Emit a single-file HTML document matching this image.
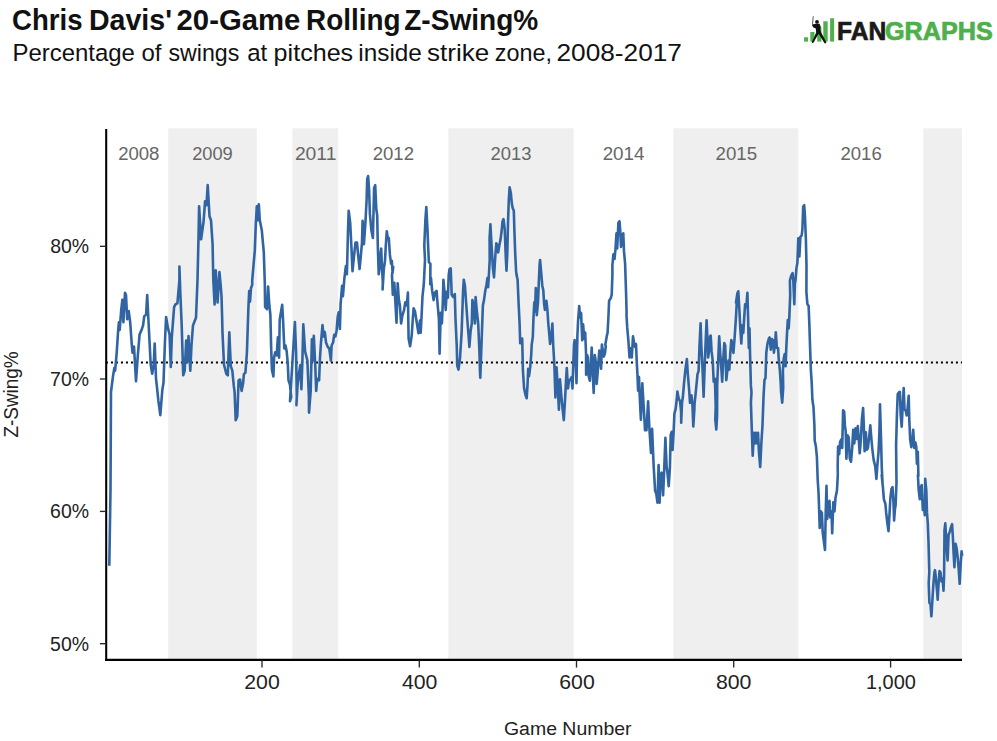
<!DOCTYPE html>
<html><head><meta charset="utf-8"><title>Chris Davis' 20-Game Rolling Z-Swing%</title>
<style>
html,body{margin:0;padding:0;background:#fff;}
body{width:997px;height:741px;overflow:hidden;font-family:"Liberation Sans",sans-serif;}
svg{display:block;}
text{font-family:"Liberation Sans",sans-serif;}
.tk{stroke:#2a2a2a;stroke-width:1.35;}
</style></head><body>
<svg width="997" height="741" viewBox="0 0 997 741">
<rect width="997" height="741" fill="#fff"/>
<text x="12.06" y="29.6" font-size="28.57px" font-weight="bold" fill="#111" stroke="none" stroke-width="0" textLength="70.49" lengthAdjust="spacingAndGlyphs">Chris</text><text x="88.97" y="29.6" font-size="28.57px" font-weight="bold" fill="#111" stroke="none" stroke-width="0" textLength="82.95" lengthAdjust="spacingAndGlyphs">Davis'</text><text x="176.59" y="29.6" font-size="28.57px" font-weight="bold" fill="#111" stroke="none" stroke-width="0" textLength="123.68" lengthAdjust="spacingAndGlyphs">20-Game</text><text x="306.07" y="29.6" font-size="28.57px" font-weight="bold" fill="#111" stroke="none" stroke-width="0" textLength="94.47" lengthAdjust="spacingAndGlyphs">Rolling</text><text x="404.21" y="29.6" font-size="28.57px" font-weight="bold" fill="#111" stroke="none" stroke-width="0" textLength="134.09" lengthAdjust="spacingAndGlyphs">Z-Swing%</text>
<text x="12.42" y="60.8" font-size="24.51px" font-weight="normal" fill="#111" stroke="none" stroke-width="0" textLength="122.47" lengthAdjust="spacingAndGlyphs">Percentage</text><text x="141.49" y="60.8" font-size="24.51px" font-weight="normal" fill="#111" stroke="none" stroke-width="0" textLength="20.02" lengthAdjust="spacingAndGlyphs">of</text><text x="168.47" y="60.8" font-size="24.51px" font-weight="normal" fill="#111" stroke="none" stroke-width="0" textLength="70.82" lengthAdjust="spacingAndGlyphs">swings</text><text x="247.29" y="60.8" font-size="24.51px" font-weight="normal" fill="#111" stroke="none" stroke-width="0" textLength="20.01" lengthAdjust="spacingAndGlyphs">at</text><text x="273.64" y="60.8" font-size="24.51px" font-weight="normal" fill="#111" stroke="none" stroke-width="0" textLength="79.53" lengthAdjust="spacingAndGlyphs">pitches</text><text x="358.34" y="60.8" font-size="24.51px" font-weight="normal" fill="#111" stroke="none" stroke-width="0" textLength="63.55" lengthAdjust="spacingAndGlyphs">inside</text><text x="427.01" y="60.8" font-size="24.51px" font-weight="normal" fill="#111" stroke="none" stroke-width="0" textLength="62.21" lengthAdjust="spacingAndGlyphs">strike</text><text x="494.83" y="60.8" font-size="24.51px" font-weight="normal" fill="#111" stroke="none" stroke-width="0" textLength="57.14" lengthAdjust="spacingAndGlyphs">zone,</text><text x="556.52" y="60.8" font-size="24.51px" font-weight="normal" fill="#111" stroke="none" stroke-width="0" textLength="125.38" lengthAdjust="spacingAndGlyphs">2008-2017</text>
<g id="logo">
<rect x="804" y="37.3" width="4.1" height="4.3" fill="#4fb04b"/>
<rect x="810.3" y="32" width="4.2" height="9.6" fill="#4fb04b"/>
<rect x="817.2" y="27" width="4.2" height="14.6" fill="#4fb04b"/>
<rect x="823.3" y="21.3" width="4.4" height="20.3" fill="#4fb04b"/>
<rect x="830.1" y="18.3" width="4" height="23.3" fill="#4fb04b"/>
<path d="M812.8,16.2 L813.6,16.3 L813,24.6 L812.2,24.5 Z" fill="#333"/>
<circle cx="817" cy="21.9" r="1.9" fill="#111"/>
<path d="M812.3,24.6 L814.5,23.9 L819.4,23.7 L820.6,26 L820.4,30 L821.2,32.6 L826.4,42.6 L825.4,43.5 L824.6,43.2 L818.6,33.8 L813.2,42.9 L812.2,43 L811.9,42 L816.2,32.4 L815.8,28.6 L813.4,27.4 L812.1,25.6 Z" fill="#111"/>
<text x="837.02" y="39.5" font-size="25.86px" font-weight="bold" fill="#1a1a1a" stroke="#1a1a1a" stroke-width="0.7" textLength="49.24" lengthAdjust="spacingAndGlyphs">FAN</text>
<text x="885.01" y="39.5" font-size="25.86px" font-weight="bold" fill="#4fb04b" stroke="#4fb04b" stroke-width="0.7" textLength="107.84" lengthAdjust="spacingAndGlyphs">GRAPHS</text>
</g>
<rect x="168.2" y="128.3" width="88.6" height="531.2" fill="#efefef"/><rect x="292.3" y="128.3" width="45.9" height="531.2" fill="#efefef"/><rect x="448.3" y="128.3" width="125.4" height="531.2" fill="#efefef"/><rect x="673.3" y="128.3" width="125.0" height="531.2" fill="#efefef"/><rect x="923.3" y="128.3" width="38.6" height="531.2" fill="#efefef"/>
<text x="118.15" y="159.8" font-size="18.59px" font-weight="normal" fill="#666" stroke="none" stroke-width="0" textLength="41.27" lengthAdjust="spacingAndGlyphs">2008</text><text x="192.15" y="159.8" font-size="18.59px" font-weight="normal" fill="#666" stroke="none" stroke-width="0" textLength="40.6" lengthAdjust="spacingAndGlyphs">2009</text><text x="294.92" y="159.8" font-size="18.59px" font-weight="normal" fill="#666" stroke="none" stroke-width="0" textLength="41.44" lengthAdjust="spacingAndGlyphs">2011</text><text x="372.75" y="159.8" font-size="18.59px" font-weight="normal" fill="#666" stroke="none" stroke-width="0" textLength="41.21" lengthAdjust="spacingAndGlyphs">2012</text><text x="490.55" y="159.8" font-size="18.59px" font-weight="normal" fill="#666" stroke="none" stroke-width="0" textLength="40.95" lengthAdjust="spacingAndGlyphs">2013</text><text x="602.65" y="159.8" font-size="18.59px" font-weight="normal" fill="#666" stroke="none" stroke-width="0" textLength="41.85" lengthAdjust="spacingAndGlyphs">2014</text><text x="715.55" y="159.8" font-size="18.59px" font-weight="normal" fill="#666" stroke="none" stroke-width="0" textLength="41.58" lengthAdjust="spacingAndGlyphs">2015</text><text x="840.45" y="159.8" font-size="18.59px" font-weight="normal" fill="#666" stroke="none" stroke-width="0" textLength="41.32" lengthAdjust="spacingAndGlyphs">2016</text>
<line x1="105.9" x2="962" y1="362.45" y2="362.45" stroke="#0a0a0a" stroke-width="2.15" stroke-dasharray="2.1 2.9"/>
<path d="M109.3,565.7 L110.5,490 L111,392 L112.9,376.8 L114.4,367.7 L115.1,370.7 L116.6,354.1 L118.1,331.4 L118.9,322.3 L119.7,329.9 L121.2,310.2 L122.4,299.7 L123.4,322.3 L125,292.9 L126,295.1 L127.2,319.3 L128.7,311 L130.2,322.3 L131.8,345 L132.5,352.6 L134,346.5 L136,381.3 L137.8,355.6 L139.6,334.4 L141.6,329.9 L143.1,325.4 L144.2,316.3 L146.1,314.8 L147.2,295.1 L148.4,319.3 L150.7,364.7 L152.2,373.8 L153.7,364.7 L154.7,343.5 L156,378.3 L157.5,392.1 L158.3,400.2 L160.3,415.2 L162.3,390.1 L163.5,382.8 L165,340.5 L166.1,317 L168,328.4 L169.6,334.4 L170.8,366.9 L171.8,337.5 L174.1,307.2 L175.6,304.2 L177.4,303.4 L179.4,280 L179.4,266.5 L180.4,295.1 L181.7,325.4 L183.2,375.3 L184.7,370.7 L186.2,340.5 L187.4,361.7 L188.5,336 L190.3,370.7 L191.5,345 L193,325.4 L194.5,321.6 L196,317.8 L197.5,280 L198.5,238.3 L199.1,206.2 L201.1,239.3 L203.5,222.3 L205.1,201.2 L206.5,205.2 L207.7,185.1 L209.5,216.2 L211,220.3 L212.6,244.4 L213.3,280 L214.6,304.5 L215.7,270.2 L217.6,302.5 L219.4,272 L220.7,285.4 L221.5,296 L222.1,316 L222.5,332.9 L224,364.7 L226.3,373.8 L227.8,375.3 L229.3,332.2 L230.8,366.2 L232.3,370.7 L233.8,385.9 L234.6,392.1 L235.7,420.3 L237.3,416.2 L238.6,380.3 L240.1,379.5 L241.6,390.9 L243.1,383.3 L243.9,374.2 L245.4,372.7 L246.9,353 L248.4,307.7 L249.2,291 L250,301.6 L251,288 L252.2,285 L252.2,280.6 L254.8,250.4 L255.8,224.3 L256.8,206.2 L257.8,220.3 L258.8,204.2 L259.8,220.3 L261.8,230.3 L263.8,252.4 L264.8,282.6 L265.1,306.9 L267,309.2 L268.1,286.5 L269.2,303.1 L270.4,315.2 L271.1,345.5 L271.9,369.7 L273.4,376.5 L274.1,357.6 L275.2,352.3 L276.7,355.3 L277.9,337.2 L279.1,357.6 L279.7,319.8 L282.2,304.7 L283.2,322.8 L284.3,348.5 L285.5,345.5 L286.7,351.5 L287.8,363.6 L288.5,380.3 L290,384.8 L291.2,397.1 L290,401.2 L293,353 L294.9,322 L296.1,353 L296.8,397.1 L296.4,405.2 L297.6,384.8 L299.1,372.7 L300.3,365.1 L301.4,389.3 L302.4,360.6 L303.3,324.3 L305.1,351.5 L307.4,360.6 L308.9,397.1 L309,412.6 L310.7,390.9 L311.9,339.4 L312.7,360.6 L313.8,335.7 L315.3,366.7 L316.2,390.9 L317.2,378.8 L319.1,380.3 L320,357.6 L321,342.5 L322.5,325.1 L323.6,336.4 L324.8,331.9 L326,342.5 L327.8,347 L329.3,348.5 L330.9,360.6 L331.6,345.5 L333.1,342.5 L334.2,334.9 L335.4,336.4 L336.6,330.4 L337.7,316.8 L338.7,312.2 L339.9,328.9 L340.6,303.9 L342.1,285.7 L342.9,296.3 L344.4,278.1 L345.9,266 L346.9,274.3 L348,230.5 L348.7,210.8 L350.2,222.9 L351.5,248.6 L352.5,271.3 L354,256.2 L355.5,242.6 L357,242.6 L358.1,254.7 L359.6,269 L360.8,256.2 L362,242.6 L362.6,220.7 L363.9,244.1 L365.4,222.9 L366.6,200.2 L367.2,179.1 L368.1,176 L369.1,189.7 L369.9,213.9 L371.4,230.5 L372.9,238 L374.1,188.1 L375.2,185.1 L376.3,209.3 L377.2,215.4 L377.8,245.6 L378.7,274.3 L379.7,266.8 L380.5,254.7 L381.2,248.6 L382,268.3 L382.8,282.1 L382.6,289.5 L383.8,269.1 L385,260.7 L385.8,245.6 L386.8,231.2 L388,239.6 L388.8,238 L389.9,254.7 L391.1,263.8 L391.8,260.7 L392.6,272.8 L393.2,266.8 L392,275.1 L392.8,294.8 L394.3,282.7 L395.8,309.9 L396.5,322.8 L397.7,283.4 L398.8,299.3 L399.9,305.4 L401.1,323.5 L402.3,316 L404.1,309.9 L405.3,302.3 L406.8,305.4 L407.9,292.5 L408.6,338.6 L410.1,346.2 L411.7,335.6 L412.9,317.5 L413.6,308.4 L415,311.4 L416.9,323.5 L418.5,333.3 L420,320.5 L420.7,332.6 L421.5,317.5 L422.5,296.3 L423.8,284.2 L425,260 L424.3,245.6 L425.4,219.9 L426.3,207 L427.4,227.5 L428.1,245.6 L428.9,262.2 L430.4,263.8 L430.3,284.2 L431,278.1 L432.1,290.2 L433.6,300.1 L435.1,292.5 L436.6,291 L437.7,305.4 L438.9,319 L439.6,353.8 L440.7,312.9 L441.9,323.5 L442.7,305.4 L443.4,279.7 L444.6,293.3 L445.7,309.9 L446.7,291.8 L447.9,297.8 L448.7,275.1 L449.5,269.1 L450.7,268.3 L451.7,294.8 L453.2,297 L454.8,294 L455.5,319 L456.7,344.7 L457.3,365.9 L458.5,369.6 L460,358.3 L461.6,332.6 L463.1,290.2 L463.8,279.7 L464.9,285.7 L466.1,302.3 L467.6,323.5 L468.8,338.6 L469.4,346.9 L470.6,331.1 L471.8,323.5 L472.4,300.1 L473.7,305.4 L474.9,323.5 L475.6,297 L476.7,309.9 L478.2,323.5 L479.4,350.7 L480,372.1 L480.3,377.8 L481.8,335.6 L482.9,305.4 L483.9,300.8 L485.1,291.8 L486.6,284.2 L487.4,278.1 L488.1,287.2 L488.9,275.1 L489.7,260 L489.6,238 L490.4,224.4 L491.4,242.6 L492.9,268.3 L494,277.4 L495.2,257.7 L496.3,243.3 L497.5,245.6 L498.2,252.4 L499.3,245.6 L500.5,239.6 L501.7,230.5 L502.5,221.4 L503.5,219.1 L504.7,229 L505.8,257.7 L506.5,270.6 L507.3,253.2 L508,222.9 L508.8,200.2 L509.6,187.4 L510.8,192.7 L511.8,203.3 L512.6,207.8 L513.8,210.8 L514.4,230.5 L515.2,253.2 L516.1,271.3 L516.6,275.1 L517.6,279.7 L518.7,305.4 L519.6,323.5 L520.2,343.2 L521.1,338.6 L522.2,338.6 L522.9,370.2 L524.1,388.4 L525.6,395.2 L526.7,398.2 L527.5,385.4 L528.2,368.7 L529,376.3 L530.2,367.2 L531.2,355.1 L531.7,344.7 L532.8,337.1 L533.5,317.5 L534.3,302.3 L535,311.4 L535.8,288 L536.8,315.2 L538,302.3 L538.8,282.7 L539.6,264.5 L540.1,260 L541.4,275.1 L542.3,285.7 L543.3,290.2 L544.1,303.9 L544.9,309.9 L546.4,300.8 L547.4,309.9 L548.3,323.5 L549.4,335.6 L550.1,343.9 L551.4,335.6 L552.4,323.5 L553.2,344.7 L554.4,365.9 L555.4,397.5 L556.5,367.2 L557.7,385.4 L558.9,409.6 L560,379.3 L561.5,397.5 L562.5,408 L563.8,420.1 L565,400.5 L566,380.8 L566.8,368 L568,388.4 L569,380.8 L570.6,379.3 L571.6,377 L572.5,388.4 L573.6,355.1 L574,344.7 L574.6,340.1 L575.4,350.7 L576.5,383.1 L577.4,335.6 L578.1,320.5 L579.2,306.1 L580.1,317.5 L581.1,312.9 L582.2,340.1 L583.1,324.3 L584.2,338.6 L585.2,332.6 L586.1,355.3 L586.1,374.8 L587.2,355.1 L587.9,357.4 L588.7,376.3 L589.8,380.8 L591,361.2 L591.7,347.6 L592.8,374.8 L593.7,392.9 L594.8,355.1 L595.5,359.7 L596.7,383.9 L598.2,365.7 L599.3,350.6 L600.3,358.1 L601.1,368.7 L601.9,344.5 L602.8,350.6 L603.8,356.6 L604.9,353.6 L605.8,346 L605.3,344.7 L606.9,335.6 L607.6,332.6 L608.4,317.5 L609.1,300.8 L610.6,298.6 L611.7,294.8 L612.4,275.1 L612.4,265 L613.4,254.4 L614.5,259 L615.4,249.9 L616.5,233.3 L617.2,248.4 L618.4,222.7 L619.5,221.2 L620.2,230.2 L621,246.9 L622.1,234.8 L623.3,233.3 L624,251.4 L625.1,263.5 L626,290.7 L626.6,312.1 L626.5,315.1 L627.2,327.2 L628.4,340.8 L629.5,357.5 L630.5,348.4 L631.8,357.5 L633,336.3 L634,342.3 L635.1,346.9 L636,343.9 L636.7,360.5 L637.5,375.6 L638.1,390.7 L639,377.1 L639.6,393.8 L640.5,412.1 L640.9,419.7 L642.3,383.2 L643.1,396.8 L644.2,415.1 L645,430.2 L646.5,430.2 L648.1,401.3 L649.5,430.2 L651,452.9 L652.1,428.7 L653.6,465 L655.1,490.7 L656.3,493.8 L657.5,502.8 L658.6,465 L659.6,502.8 L660.5,475.6 L661.6,472.6 L663.1,495.3 L664.2,469.6 L665.4,437.8 L666.6,466.5 L667.6,474.1 L668.7,486.2 L669.9,468 L670.7,434.8 L671.7,431.8 L672.6,449.9 L673.7,430.2 L674.4,413.6 L675.6,409.1 L676.7,400 L677.4,391.5 L678.6,398.3 L680.1,401.3 L681.1,412.1 L681.2,422.7 L682,402.8 L682.9,396.8 L683.9,384.7 L685.4,369.6 L686.9,359 L687.7,372.6 L689.2,390.7 L690,402.8 L690.7,396.8 L691.5,395.3 L692.5,405.9 L693.3,426.5 L694.4,409.1 L694.5,404.3 L695.6,393.8 L696.8,381.7 L697.5,374.1 L698.6,371.1 L699.5,345.4 L700.6,323.4 L701.3,345.4 L702.5,368 L703.6,396.8 L704.6,368 L705.5,345.4 L706.6,320.4 L707.4,337.8 L708.1,357.5 L709.2,349.9 L710.1,336.3 L710.7,335.5 L711.6,351.4 L712.7,360.5 L713.7,381.7 L714.9,378.6 L715.7,405.9 L715.3,419.7 L716.3,429.5 L717.1,415.1 L717.2,384.7 L717.9,368 L719.2,336.3 L720.2,352.9 L721.3,368 L722.2,381.7 L723.2,360.5 L724.3,343.1 L725.2,345.4 L726.3,380.1 L727.3,371.1 L728.5,360.5 L729.3,369.6 L730.3,352.9 L731.3,340.1 L732.3,343.9 L733.4,352.9 L734.6,337.8 L736.1,315.1 L736.9,300 L736,302.7 L737.3,293.6 L738.3,291.3 L739.4,310.2 L740.3,328.4 L741.3,343.5 L742.4,325.4 L743.3,332.9 L744.4,314.8 L745.1,304.2 L746.3,307.2 L747.4,292.9 L748.1,317.8 L748.8,348 L749.5,328.4 L750.1,355.6 L750.9,385.9 L751.5,392.1 L750.9,402.7 L751.9,432.9 L752.7,455.6 L753.9,432.9 L755,443.5 L756,432.9 L757.2,443.5 L758,432.9 L759,452.6 L760.2,466.9 L761.5,440.5 L762.5,425.4 L763.6,395.1 L764.5,379.8 L765.5,378.3 L766.3,352.6 L767.5,343.5 L769,338.2 L769.6,337.5 L770.8,349.6 L772,339 L773.1,340.5 L773.9,352.6 L775.1,343.5 L775.8,332.2 L776.9,348 L778.1,348 L778.7,358.6 L779.9,370.7 L780.7,382.8 L781.1,392.1 L782.2,402.7 L783.2,387.6 L782.9,370.7 L783.7,358.6 L784.7,354.1 L785.6,366.2 L786.3,348 L787.2,329.9 L787.8,320.1 L788.7,328.4 L789.3,317.8 L790.2,295.1 L789.9,280.7 L791.1,276.2 L792.6,273.2 L793.3,280.7 L794.3,304.2 L794.9,283.8 L795.6,279.2 L796.4,268.6 L797.4,262.6 L798.3,238.4 L799.4,256.5 L800.4,236.9 L801.7,235.4 L802.4,229.3 L803.2,206.6 L804.2,205.1 L805,217.2 L805.9,239.9 L806.5,265.6 L806.4,292.1 L807.4,304.2 L808.6,305.7 L809.4,325.4 L810.1,348 L810.9,370.7 L811.7,382.8 L812.4,399.7 L813.5,407.2 L814.4,425.4 L814.7,440.5 L815.9,446.5 L816.9,457.1 L817.7,479.8 L818.5,492.1 L818.9,502.3 L819.7,528 L820.9,511.4 L821.9,512.9 L822.7,532.6 L823.9,541.7 L825,550 L825.7,512.9 L826.5,485.7 L827.2,519 L828.4,505.4 L829.5,500.8 L830.2,517.5 L831.5,511.4 L832.2,533.3 L833.3,502.3 L834.5,511.4 L835.5,497.8 L837,490.2 L837.8,475.1 L837.7,464.7 L838.1,446.5 L839.2,454.1 L840.1,442 L841.1,439.7 L842.2,448 L843.1,410.2 L844.2,411.8 L844.9,425.4 L845.7,431.4 L846.4,458.6 L847.6,435.2 L848.7,437.5 L849.8,458.6 L851,461.7 L852.2,448 L853.2,429.9 L854.3,443.5 L855.5,428.4 L856.7,439 L857.8,426.1 L858.8,440.5 L859.7,453.3 L860.8,440.5 L861.9,419.3 L863.1,408 L863.8,425.4 L864.6,451.1 L865.8,432.2 L866.9,449.6 L867.9,448 L869.1,437.5 L870.3,425.4 L871.4,439 L872.4,449.6 L873.7,460.1 L875.2,466.2 L876.4,479 L877.4,464.7 L878.5,452.6 L879.4,432.9 L880,404.2 L881,438 L881.8,468.3 L882.5,482.1 L881.7,475.1 L882.9,487.2 L883.9,499.3 L885.4,503.9 L886.2,512.9 L887.4,523.5 L888.5,531.1 L889.5,514.4 L890.4,497.8 L891.5,488.7 L892.5,487.2 L893.5,502.3 L894.1,520.5 L895,508.4 L895.6,505.4 L896.5,482.7 L896.1,445.6 L896.9,415.4 L897.7,394.2 L898.7,392.7 L899.9,391.9 L900.7,415.4 L901.7,426.7 L902.6,407.8 L903.7,388.1 L904.5,409.3 L905.7,410.8 L906.7,415.4 L907.5,409.3 L908.7,395.7 L909.3,419.9 L910.2,439.6 L911.3,447.1 L912.3,442.6 L913.2,429.7 L914.3,447.9 L915.4,442.6 L916.3,447.1 L916.9,463.8 L917.8,451.7 L918.4,475.9 L917.9,475.1 L918.7,490.2 L919.8,499.3 L920.7,487.2 L921.7,485 L922.8,509.9 L923.7,503.9 L924.8,515.2 L925.2,478.9 L926.3,490.2 L927,512.9 L927.8,523.5 L928.5,541.7 L929.3,572.1 L928.7,583 L929.4,602.7 L930.5,604.2 L931.4,616.3 L932.4,599.7 L933.5,583 L934.4,572.5 L935,570.2 L935.9,578.5 L937,590.6 L937.7,599.7 L938.5,584.6 L939.5,571 L940.5,572.5 L941.5,581.5 L942.6,578.5 L943.5,590.6 L944.1,575.5 L944.5,530.1 L945.3,523.3 L946.5,545.2 L947.6,560.4 L948.6,534.7 L949.8,531.6 L951,527.1 L952.1,524.1 L952.9,537.7 L953.6,552.8 L954.4,567.2 L955.6,543.7 L956.6,548.3 L957.7,557.3 L958.6,567.9 L959.7,583.8 L960.7,563.4 L961.6,551.3 L962.2,555.8" fill="none" stroke="#3064a2" stroke-width="2.6" stroke-linejoin="round" stroke-linecap="butt"/>
<line x1="106.2" x2="106.2" y1="128.9" y2="660.9" stroke="#000" stroke-width="2.05"/>
<line x1="105.2" x2="962" y1="659.8" y2="659.8" stroke="#000" stroke-width="2.15"/>
<line x1="99.9" x2="105.3" y1="246.3" y2="246.3" class="tk"/><text x="50.17" y="253.0" font-size="19.32px" font-weight="normal" fill="#222" stroke="none" stroke-width="0" textLength="38.87" lengthAdjust="spacingAndGlyphs">80%</text><line x1="99.9" x2="105.3" y1="379.0" y2="379.0" class="tk"/><text x="50.11" y="385.8" font-size="19.32px" font-weight="normal" fill="#222" stroke="none" stroke-width="0" textLength="38.89" lengthAdjust="spacingAndGlyphs">70%</text><line x1="99.9" x2="105.3" y1="511.4" y2="511.4" class="tk"/><text x="50.09" y="518.1" font-size="19.32px" font-weight="normal" fill="#222" stroke="none" stroke-width="0" textLength="38.95" lengthAdjust="spacingAndGlyphs">60%</text><line x1="99.9" x2="105.3" y1="643.7" y2="643.7" class="tk"/><text x="50.09" y="650.9" font-size="19.32px" font-weight="normal" fill="#222" stroke="none" stroke-width="0" textLength="38.96" lengthAdjust="spacingAndGlyphs">50%</text>
<line x1="262.0" x2="262.0" y1="660.5" y2="667.6" class="tk"/><text x="244.29" y="688.9" font-size="19.35px" font-weight="normal" fill="#222" stroke="none" stroke-width="0" textLength="35.5" lengthAdjust="spacingAndGlyphs">200</text><line x1="419.3" x2="419.3" y1="660.5" y2="667.6" class="tk"/><text x="401.99" y="688.9" font-size="19.35px" font-weight="normal" fill="#222" stroke="none" stroke-width="0" textLength="35.42" lengthAdjust="spacingAndGlyphs">400</text><line x1="576.5" x2="576.5" y1="660.5" y2="667.6" class="tk"/><text x="559.27" y="688.9" font-size="19.35px" font-weight="normal" fill="#222" stroke="none" stroke-width="0" textLength="35.43" lengthAdjust="spacingAndGlyphs">600</text><line x1="733.7" x2="733.7" y1="660.5" y2="667.6" class="tk"/><text x="715.92" y="688.9" font-size="19.35px" font-weight="normal" fill="#222" stroke="none" stroke-width="0" textLength="35.53" lengthAdjust="spacingAndGlyphs">800</text><line x1="890.6" x2="890.6" y1="660.5" y2="667.6" class="tk"/><text x="865.96" y="688.9" font-size="19.35px" font-weight="normal" fill="#222" stroke="none" stroke-width="0" textLength="49.97" lengthAdjust="spacingAndGlyphs">1,000</text>
<text x="503.99" y="734.7" font-size="18.65px" font-weight="normal" fill="#222" stroke="none" stroke-width="0" textLength="127.58" lengthAdjust="spacingAndGlyphs">Game Number</text>
<text transform="translate(17.5,437.6) rotate(-90)" font-size="20.07px" fill="#222" textLength="86.31" lengthAdjust="spacingAndGlyphs">Z-Swing%</text>
</svg>
</body></html>
